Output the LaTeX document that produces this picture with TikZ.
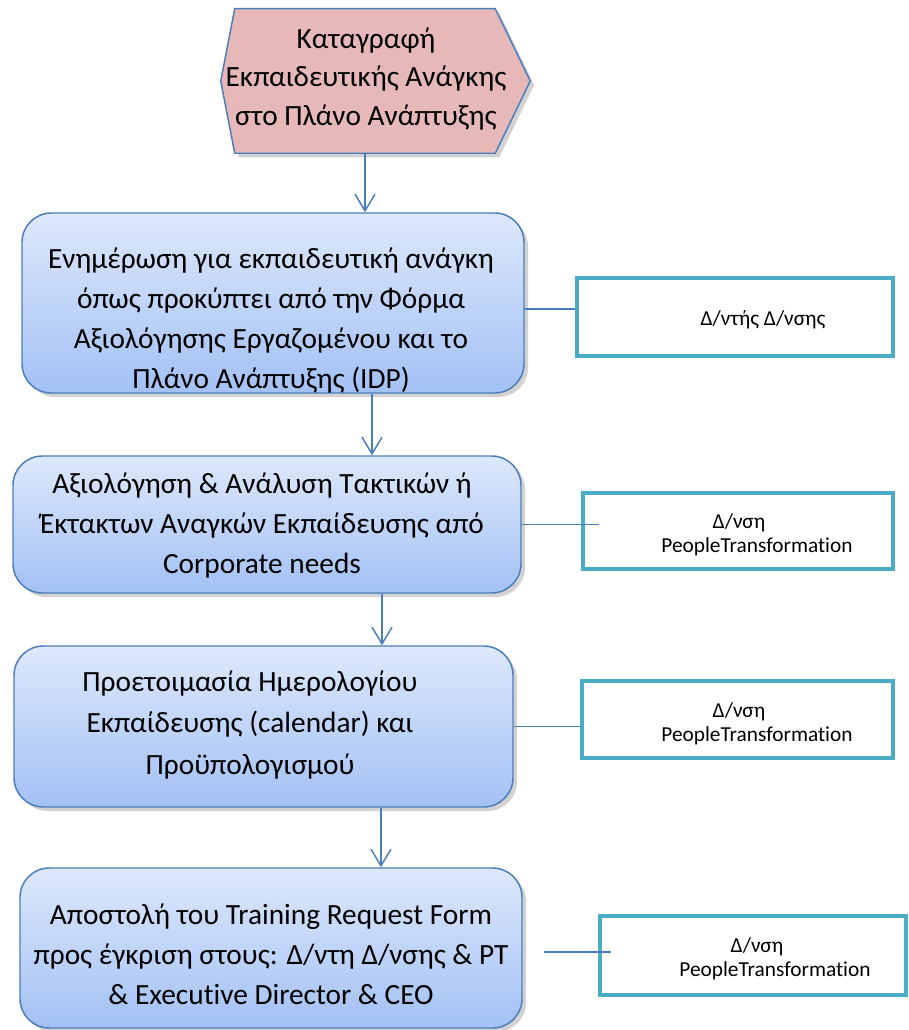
\documentclass[tikz,border=0pt]{standalone}
\usepackage{fontspec}
\setmainfont{Carlito}[Ligatures=NoCommon]
\usetikzlibrary{shadows,arrows.meta}
\definecolor{edgeblue}{HTML}{4A7EBB}
\definecolor{hexpink}{HTML}{E6B9B8}
\definecolor{boxtop}{HTML}{DDE8FB}
\definecolor{boxbot}{HTML}{A3C1F5}
\definecolor{roleteal}{HTML}{4BACC6}
\tikzset{stepbox/.style={draw=edgeblue,line width=1.1pt,rounded corners=22pt,top color=boxtop,bottom color=boxbot,drop shadow={shadow xshift=3pt,shadow yshift=-3pt,fill=black!35,opacity=0.5}},
  steptext/.style={align=center,font=\fontsize{22}{30}\selectfont,inner sep=0pt},
  rolebox/.style={draw=roleteal,line width=2.3pt,inner sep=0pt},
  roletext/.style={align=center,font=\fontsize{16}{18}\selectfont,inner sep=0pt},
  flow/.style={draw=edgeblue,line width=1.1pt,-{Straight Barb[length=12.5pt,width=15pt]}},
  link/.style={draw=edgeblue,line width=1.1pt}}

\begin{document}
\begin{tikzpicture}[x=0.75pt,y=-0.75pt]
  \useasboundingbox (0,0) rectangle (908,1030);

  % start: the hexagon
  \node (hex) [minimum width=195pt,minimum height=108pt,inner sep=0pt] at (365,81) {};
  \draw[edgeblue,line width=1.1pt,fill=hexpink,drop shadow={shadow xshift=3pt,shadow yshift=-3pt,fill=black!35,opacity=0.5}]
    (hex.north west) -- (hex.north east) -- ([xshift=26.25pt]hex.east) -- (hex.south east)
    -- (hex.south west) -- ([xshift=-10.5pt]hex.west) -- cycle;
  \node (hextxt) [steptext,font=\fontsize{22}{29}\selectfont] at (366,79) {Καταγραφή\\Εκπαιδευτικής Ανάγκης\\στο Πλάνο Ανάπτυξης};

  % the steps
  \node (b1) [stepbox,minimum width=376.5pt,minimum height=135pt] at (273,303) {};
  \node (b2) [stepbox,minimum width=381pt,minimum height=102.75pt] at (267,524.5) {};
  \node (b3) [stepbox,minimum width=374.25pt,minimum height=120.75pt] at (263.5,726.5) {};
  \node (b4) [stepbox,minimum width=376.5pt,minimum height=120pt] at (271,948) {};

  \node (t1) [steptext] at (271,321) {Ενημέρωση για εκπαιδευτική ανάγκη\\όπως προκύπτει από την Φόρμα\\Αξιολόγησης Εργαζομένου και το\\Πλάνο Ανάπτυξης (IDP)};
  \node (t2) [steptext] at (262,526) {Αξιολόγηση \& Ανάλυση Τακτικών ή\\Έκτακτων Αναγκών Εκπαίδευσης από\\Corporate needs};
  \node (t3) [steptext,font=\fontsize{22}{31}\selectfont] at (250,725) {Προετοιμασία Ημερολογίου\\Εκπαίδευσης (calendar) και\\Προϋπολογισμού};
  \node (t4) [steptext] at (271,954) {Αποστολή του Training Request Form\\προς έγκριση στους: Δ/ντη Δ/νσης \& PT\\\& Executive Director \& CEO};

  % who does it
  \node (s1) [rolebox,minimum width=237pt,minimum height=58.5pt] at (735,317) {};
  \node (s2) [rolebox,minimum width=232.5pt,minimum height=57pt] at (738,531) {};
  \node (s3) [rolebox,minimum width=233.25pt,minimum height=57.75pt] at (737.5,719.5) {};
  \node (s4) [rolebox,minimum width=229.5pt,minimum height=59.25pt] at (753,955.5) {};

  \node (r1) [roletext] at (763,320) {Δ/ντής Δ/νσης};
  \node (r2) [roletext] at (739,535) {Δ/νση\\\hspace*{27pt}PeopleTransformation};
  \node (r3) [roletext] at (739,723.5) {Δ/νση\\\hspace*{27pt}PeopleTransformation};
  \node (r4) [roletext] at (757,959) {Δ/νση\\\hspace*{27pt}PeopleTransformation};

  % arrows
  \draw[flow] (hex.south) -- (hex.south |- b1.north);
  \draw[flow] ([xshift=74.25pt]b1.south) -- ([xshift=74.25pt]b1.south |- b2.north);
  \draw[flow] ([xshift=86.25pt]b2.south) -- ([xshift=86.25pt]b2.south |- b3.north);
  \draw[flow] ([xshift=88.1pt]b3.south) -- ([xshift=88.1pt]b3.south |- b4.north);

  % links to the roles
  \draw[link] ([yshift=-4.5pt]b1.east) -- ([yshift=-4.5pt]b1.east -| s1.west);
  \draw[link] (b2.east) -- ([xshift=13.5pt]s2.west |- b2.east);
  \draw[link] (b3.east) -- (b3.east -| s3.west);
  \draw[link] ([xshift=15.75pt,yshift=-3pt]b4.east) -- ([xshift=9.75pt,yshift=-3pt]s4.west |- b4.east);
\end{tikzpicture}
\end{document}
